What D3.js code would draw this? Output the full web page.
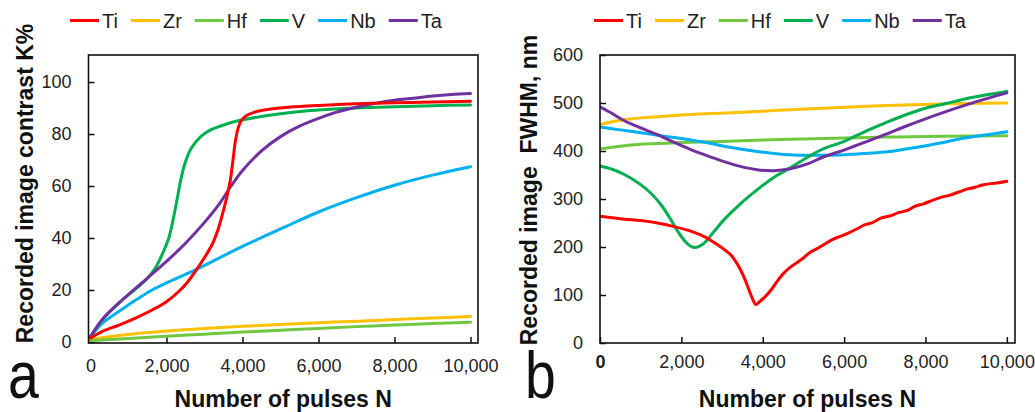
<!DOCTYPE html>
<html><head><meta charset="utf-8">
<script src="https://cdn.jsdelivr.net/npm/d3@7"></script>
<style>
html,body{margin:0;padding:0;background:#fff;}
svg{display:block;font-family:"Liberation Sans",Arial,sans-serif;}
</style></head>
<body><svg id="c" width="1035" height="412"></svg>
<script>
// ---------- data ----------
const seriesNames = ["Ti","Zr","Hf","V","Nb","Ta"];
const seriesColors = ["#ff0000","#ffc000","#70c840","#00b050","#00b0f0","#7030a0"];
const xTicks = [0,2000,4000,6000,8000,10000];
const yTicksA = [0,20,40,60,80,100];
const yTicksB = [0,100,200,300,400,500,600];

// panel a: contrast K% vs pulses
const tiA = [[0,1.5],[300,4],[750,6.5],[1200,9.3],[1620,12.3],[2000,15.5],[2320,19.4],[2550,23],[2760,27.2],[3000,32.5],[3200,37.5],[3350,43],[3460,48.5],[3590,55.9],[3680,62.3],[3750,70],[3810,77],[3880,82],[3960,85],[4100,87],[4300,88.3],[4700,89.5],[5200,90.3],[6000,91],[7000,91.6],[8000,92],[9000,92.3],[10000,92.6]];
const zrA = [[0,1],[500,2],[1000,2.9],[2000,4.2],[3000,5.2],[4000,6],[5000,6.7],[6000,7.4],[7000,8],[8000,8.6],[9000,9.2],[10000,9.8]];
const hfA = [[0,0.5],[500,0.9],[1000,1.3],[2000,2.2],[3000,3],[4000,3.8],[5000,4.5],[6000,5.2],[7000,5.9],[8000,6.5],[9000,7.1],[10000,7.6]];
const vA = [[0,2],[300,8.3],[750,15],[1200,20.5],[1500,24.5],[1710,28.5],[1880,33.5],[2060,40],[2180,47.5],[2280,55],[2370,62],[2480,68.5],[2650,74.5],[2900,79],[3150,81.5],[3410,83],[3800,84.8],[4120,85.8],[5000,87.8],[6000,89.2],[7000,90],[8000,90.5],[9000,90.9],[10000,91.2]];
const nbA = [[0,2],[300,7],[745,11.7],[1200,16.2],[1620,20],[2000,22.7],[2760,27.7],[3810,35.4],[5125,44.3],[6000,50],[7000,55.5],[8000,60.3],[9000,64.2],[10000,67.4]];
const taA = [[0,2],[300,8.5],[750,15],[1490,24.5],[2000,31],[2500,38],[3000,46],[3370,52.7],[3700,60],[4000,66],[4500,73.5],[5000,79],[5500,83],[6000,86],[6500,88.5],[7000,90.3],[7500,91.8],[8000,93],[8500,93.8],[9000,94.6],[9500,95.2],[10000,95.6]];

// panel b: FWHM nm vs pulses
const tiB = [[0,264],[600,258],[1000,255],[1410,250],[1800,243],[2230,233],[2600,220],[2880,205],[3050,195],[3210,184],[3350,168],[3450,153],[3560,133],[3660,111],[3760,90],[3830,80],[3920,86],[4030,94],[4200,110],[4350,128],[4500,144],[4680,158],[4850,168],[5000,177],[5150,188],[5300,195],[5500,205],[5700,215],[5900,222],[6100,229],[6320,238],[6500,246],[6700,251],[6900,260],[7140,265],[7350,272],[7550,276],[7750,285],[7950,290],[8200,298],[8400,304],[8600,308],[8800,314],[9000,320],[9200,324],[9400,329],[9600,332],[9800,334],[10000,337]];
const zrB = [[0,455],[300,461],[700,466],[1000,469],[1500,472],[2000,475],[3050,479],[4000,483],[4680,486],[5500,489],[6300,492],[7100,495],[7950,497],[9000,499],[10000,500]];
const hfB = [[0,404],[300,408],[700,412],[1000,414],[1600,416],[2230,418],[3000,420],[4000,423],[5000,425],[6000,427],[7000,429],[8000,430],[9000,431],[10000,432]];
const vB = [[0,369],[300,362],[600,351],[1000,330],[1250,312],[1500,288],[1740,257],[1900,234],[2060,215],[2200,203],[2310,199],[2450,202],[2560,208],[2800,232],[3050,257],[3450,290],[3860,319],[4270,345],[4680,365],[5100,387],[5500,405],[6000,420],[6500,440],[7000,458],[7500,475],[8000,489],[8500,499],[9000,509],[9500,517],[10000,524]];
const nbB = [[0,450],[500,444],[1000,438],[1410,433],[1820,428],[2230,423],[2640,417],[3050,410],[3450,404],[3860,399],[4270,395],[4680,392],[5100,391],[5500,391],[6000,392],[6320,394],[6700,396],[7140,399],[7500,404],[7950,410],[8400,417],[8770,424],[9200,430],[9600,435],[10000,440]];
const taB = [[0,492],[300,478],[600,463],[1000,448],[1410,434],[1820,418],[2230,403],[2640,390],[3050,378],[3450,368],[3860,361],[4270,359],[4680,363],[5100,373],[5500,388],[6000,402],[6500,418],[7000,434],[7500,451],[8000,467],[8500,482],[9000,496],[9500,509],[10000,521]];

const seriesA = [tiA,zrA,hfA,vA,nbA,taA];
const seriesB = [tiB,zrB,hfB,vB,nbB,taB];

// ---------- drawing ----------
const svg = d3.select("#c");
const fmt = d3.format(",");

function panel(cfg){
  const g = svg.append("g");
  const x = d3.scaleLinear().domain(cfg.xDomain).range([cfg.left,cfg.right]);
  const y = d3.scaleLinear().domain(cfg.yDomain).range([cfg.bottom,cfg.top]);
  const clipId = "clip"+cfg.id;
  svg.append("defs").append("clipPath").attr("id",clipId).append("rect")
    .attr("x",cfg.left).attr("y",cfg.top).attr("width",cfg.right-cfg.left).attr("height",cfg.bottom-cfg.top);

  // axes
  const ax = g.append("g").attr("transform",`translate(0,${cfg.bottom})`)
    .call(d3.axisBottom(x).tickValues(xTicks).tickFormat(fmt).tickSizeInner(-6).tickSizeOuter(0).tickPadding(cfg.xPad));
  const ay = g.append("g").attr("transform",`translate(${cfg.left},0)`)
    .call(d3.axisLeft(y).tickValues(cfg.yTicks).tickSizeInner(-6).tickSizeOuter(0).tickPadding(17));
  [ax,ay].forEach(a=>{
    a.select(".domain").remove();
    a.selectAll(".tick line").attr("stroke","#111").attr("stroke-width",1.5);
    a.selectAll(".tick text").attr("font-size",18).attr("fill","#222")
      .attr("font-family","'Liberation Sans',Arial,sans-serif");
  });
  if(cfg.boldZero) ax.selectAll(".tick text").filter(d=>d===0).attr("font-weight","bold");

  // lines
  const line = d3.line().x(d=>x(d[0])).y(d=>y(d[1])).curve(d3.curveCatmullRom.alpha(0.5));
  const order = [1,2,4,3,5,0];
  g.append("g").attr("clip-path",`url(#${clipId})`).selectAll("path")
    .data(order).join("path")
    .attr("d",i=>line(cfg.series[i]))
    .attr("fill","none").attr("stroke",i=>seriesColors[i])
    .attr("stroke-width",3).attr("stroke-linejoin","round").attr("stroke-linecap","round");

  // frame
  g.append("rect").attr("x",cfg.left).attr("y",cfg.top)
    .attr("width",cfg.right-cfg.left).attr("height",cfg.bottom-cfg.top)
    .attr("fill","none").attr("stroke","#111").attr("stroke-width",1.6);

  // legend
  let lx = cfg.legendX;
  const ly = 20.5;
  seriesNames.forEach((n,i)=>{
    g.append("line").attr("x1",lx).attr("x2",lx+29).attr("y1",ly).attr("y2",ly)
      .attr("stroke",seriesColors[i]).attr("stroke-width",3);
    const t = g.append("text").attr("x",lx+32).attr("y",28).attr("font-size",20)
      .attr("fill","#222").text(n);
    lx += 32 + t.node().getComputedTextLength() + 13;
  });

  // y title
  g.append("text").attr("transform",`translate(${cfg.yTitleX},${cfg.yTitleY}) rotate(-90)`)
    .attr("text-anchor","middle").attr("font-size",23).attr("font-weight","bold")
    .attr("fill","#111").style("white-space","pre").text(cfg.yTitle);
  // x title
  g.append("text").attr("x",(cfg.left+cfg.right)/2).attr("y",407)
    .attr("text-anchor","middle").attr("font-size",23).attr("font-weight","bold")
    .attr("fill","#111").text("Number of pulses N");
  // panel letter
  g.append("text").attr("transform",`translate(${cfg.letterX},398) scale(0.84,1)`)
    .attr("font-size",66).attr("fill","#111").text(cfg.letter);
}

panel({id:"a", left:88.5, right:478, top:55, bottom:343,
  xDomain:[-53,10197], yDomain:[-0.4,110.4], yTicks:yTicksA, series:seriesA,
  xPad:16, legendX:70, yTitle:"Recorded image contrast K%", yTitleX:32.5, yTitleY:183.5,
  letter:"a", letterX:8, boldZero:false});
panel({id:"b", left:600, right:1015, top:55, bottom:343,
  xDomain:[0,10200], yDomain:[0,600], yTicks:yTicksB, series:seriesB,
  xPad:12, legendX:594, yTitle:"Recorded image  FWHM, nm", yTitleX:537, yTitleY:190,
  letter:"b", letterX:525, boldZero:true});
</script></body></html>
